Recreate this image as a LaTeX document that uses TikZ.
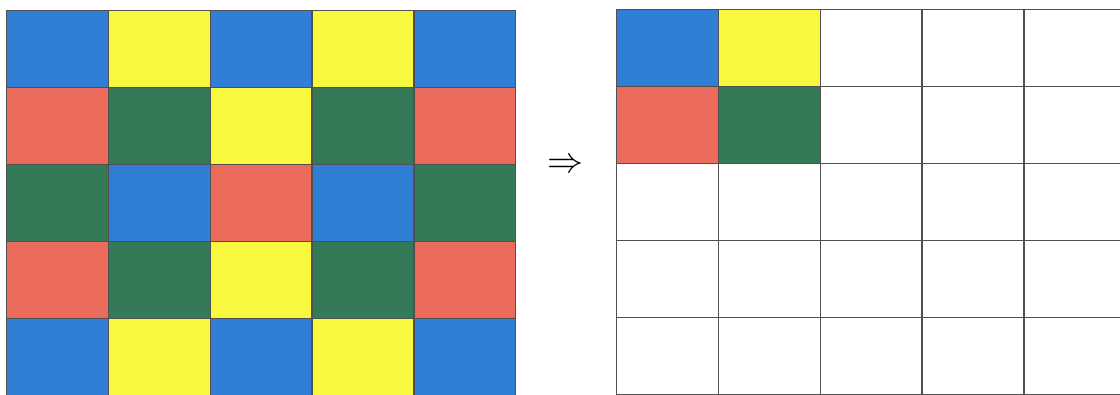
\documentclass[tikz,border=0pt]{standalone}
\definecolor{cB}{RGB}{48,126,214}
\definecolor{cY}{RGB}{248,248,62}
\definecolor{cR}{RGB}{234,106,92}
\definecolor{cG}{RGB}{52,122,86}
\definecolor{cW}{RGB}{255,255,255}
\definecolor{edge}{RGB}{80,80,80}
\begin{document}
\begin{tikzpicture}[x=1pt,y=-1pt,
  cell/.style={draw=edge,line width=1.3pt,minimum width=101.8pt,minimum height=77pt,inner sep=0pt,anchor=north west}]
\useasboundingbox (0,0) rectangle (1120,394);
% left grid
\foreach \row [count=\r from 0] in {{B,Y,B,Y,B},{R,G,Y,G,R},{G,B,R,B,G},{R,G,Y,G,R},{B,Y,B,Y,B}}{
  \foreach \c [count=\k from 0] in \row {
    \node[cell,fill=c\c] (L-\r-\k) at ({6+101.8*\k},{10+77*\r}) {};
  }
}
% right grid
\foreach \row [count=\r from 0] in {{B,Y,W,W,W},{R,G,W,W,W},{W,W,W,W,W},{W,W,W,W,W},{W,W,W,W,W}}{
  \foreach \c [count=\k from 0] in \row {
    \node[cell,fill=c\c] (R-\r-\k) at ({616+101.8*\k},{9+77*\r}) {};
  }
}
\node[inner sep=0pt,scale=1.45] (arr) at (566,166) {\Huge$\Rightarrow$};
\end{tikzpicture}
\end{document}
